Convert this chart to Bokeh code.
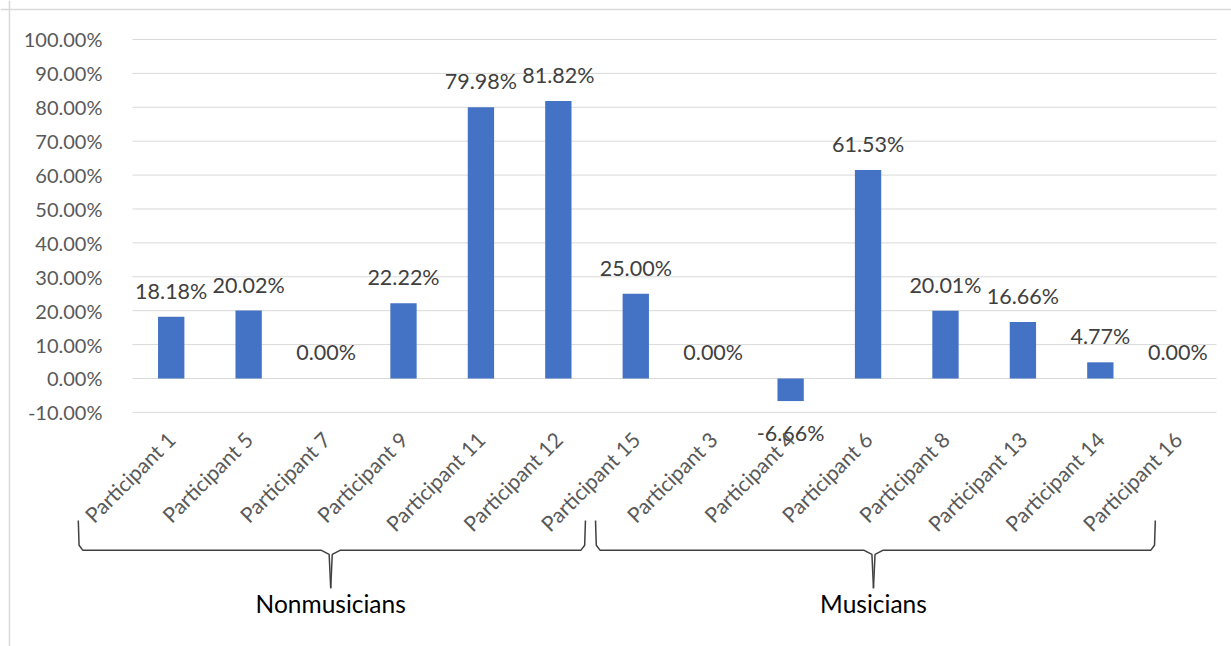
from math import pi
from bokeh.plotting import figure
from bokeh.models import (ColumnDataSource, LinearAxis, FixedTicker,
                          NumeralTickFormatter, Span, Range1d)
from bokeh.embed import file_html
from bokeh.resources import INLINE
from bokeh.core.properties import value

# ---------------- data ----------------
participants = ["Participant 1", "Participant 5", "Participant 7", "Participant 9",
                "Participant 11", "Participant 12", "Participant 15", "Participant 3",
                "Participant 4", "Participant 6", "Participant 8", "Participant 13",
                "Participant 14", "Participant 16"]
values = [0.1818, 0.2002, 0.0, 0.2222, 0.7998, 0.8182, 0.2500, 0.0,
          -0.0666, 0.6153, 0.2001, 0.1666, 0.0477, 0.0]
y_ticks = [-0.1, 0.0, 0.1, 0.2, 0.3, 0.4, 0.5, 0.6, 0.7, 0.8, 0.9, 1.0]
groups = ["Nonmusicians", "Musicians"]
bracket_left = [-1.2, 5.48]
bracket_right = [5.35, 12.71]
bracket_mid = [2.06, 9.07]

# ---------------- layout constants ----------------
X0, X1 = -2.2048, 13.694
Y0, Y1 = -0.7906, 1.1150
FONT = "Lato"

idx = list(range(len(participants)))

p = figure(width=1231, height=646, x_range=Range1d(X0, X1), y_range=Range1d(Y0, Y1),
           x_axis_type=None, y_axis_type=None, toolbar_location=None,
           output_backend="svg", min_border=0, outline_line_color=None,
           background_fill_color="white", border_fill_color="white")

# chart border (top and left)
p.add_layout(Span(location=1.0885, dimension="width", line_color="#d9d9d9", line_width=1.5))
p.add_layout(Span(location=X0 + 9 / 77.43, dimension="height", line_color="#d9d9d9", line_width=1.5))

# gridlines
p.segment(x0=[-0.5] * len(y_ticks), y0=y_ticks, x1=[len(participants) - 0.5] * len(y_ticks),
          y1=y_ticks, line_color="#d9d9d9", line_width=1)

# y axis
yaxis = LinearAxis(ticker=FixedTicker(ticks=y_ticks),
                   formatter=NumeralTickFormatter(format="0.00%"),
                   fixed_location=-0.5, axis_line_color=None,
                   major_tick_line_color=None, minor_tick_line_color=None,
                   major_label_standoff=24, major_label_text_font=FONT,
                   major_label_text_font_size="20px", major_label_text_color="#595959")
p.add_layout(yaxis, "left")

# x axis
xaxis = LinearAxis(ticker=FixedTicker(ticks=idx),
                   major_label_overrides={i: n for i, n in zip(idx, participants)},
                   fixed_location=-0.1, axis_line_color=None,
                   major_tick_line_color=None, minor_tick_line_color=None,
                   major_label_orientation=pi / 4, major_label_standoff=17,
                   major_label_text_font=FONT, major_label_text_font_size="21px",
                   major_label_text_color="#595959")
p.add_layout(xaxis, "below")

# bars
p.vbar(x=idx, top=values, bottom=0, width=0.34, fill_color="#4472C4", line_color=None)

# data labels
labels = ["%.2f%%" % (v * 100) for v in values]
yoff = [-26 if v >= 0 else 32 for v in values]
src = ColumnDataSource(dict(x=idx, y=values, label=labels, yoff=yoff))
p.text(x="x", y="y", text="label", y_offset="yoff", source=src,
       text_align="center", text_baseline="middle", text_font=value(FONT),
       text_font_size="21.5px", text_color="#404040")

# brackets
y_top, y_h, y_sp = -0.419, -0.507, -0.619
xs, ys = [], []
for l, r, m in zip(bracket_left, bracket_right, bracket_mid):
    xs.append([l, l + 0.01, l + 0.06, m - 0.12, m - 0.02, m])
    ys.append([y_top, y_h + 0.015, y_h, y_h, y_h - 0.012, y_sp])
    xs.append([r, r - 0.01, r - 0.06, m + 0.12, m + 0.02, m])
    ys.append([y_top, y_h + 0.015, y_h, y_h, y_h - 0.012, y_sp])
p.multi_line(xs=xs, ys=ys, line_color="#404040", line_width=1.5)

# group labels
p.text(x=bracket_mid, y=[-0.664] * len(groups), text=groups, text_align="center",
       text_baseline="middle", text_font=value(FONT), text_font_size="24.5px",
       text_color="black")

open("out.html", "w").write(file_html(p, INLINE))
